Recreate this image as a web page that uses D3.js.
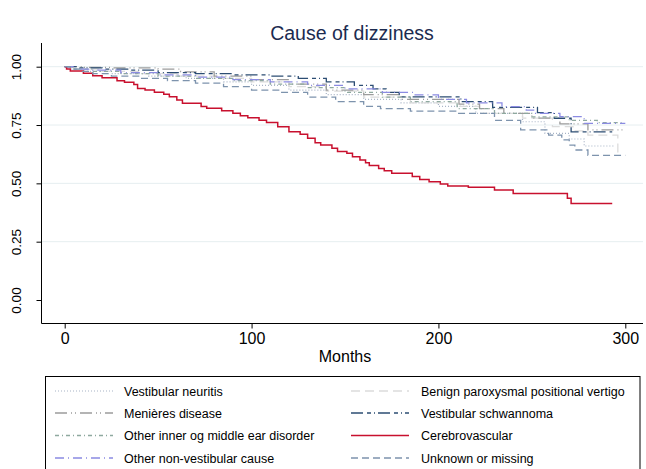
<!DOCTYPE html>
<html>
<head>
<meta charset="utf-8">
<script src="https://d3js.org/d3.v7.min.js"></script>
<style>
    body {margin: 0; background: #fff;}
    text {font-family: "Liberation Sans", Arial, sans-serif;}
</style>
</head>
<body>
<div id="chart"></div>
<script>
// Kaplan-Meier steps: month, survival (last entry = end of follow-up)
var neuritisT  = [0, 3, 10, 25, 45, 65, 85, 100, 120, 140, 160, 180, 200, 220, 245, 257, 270, 278, 294];
var neuritisS  = [1, 0.99, 0.98, 0.97, 0.96, 0.95, 0.935, 0.92, 0.90, 0.88, 0.86, 0.845, 0.83, 0.80, 0.764, 0.714, 0.69, 0.66, 0.66];

var benignT    = [0, 5, 20, 40, 60, 80, 100, 120, 140, 160, 185, 210, 222, 245, 261, 272, 280, 296, 297];
var benignS    = [1, 0.99, 0.98, 0.97, 0.96, 0.95, 0.935, 0.915, 0.895, 0.87, 0.845, 0.83, 0.80, 0.78, 0.743, 0.725, 0.707, 0.63, 0.63];

var menieresT  = [0, 10, 25, 50, 62, 80, 100, 120, 140, 160, 180, 211, 222, 235, 250, 265, 280, 300];
var menieresS  = [1, 0.997, 0.995, 0.99, 0.978, 0.96, 0.945, 0.925, 0.90, 0.88, 0.86, 0.84, 0.82, 0.80, 0.78, 0.755, 0.729, 0.729];

var schwannT   = [0, 8, 20, 35, 50, 70, 90, 110, 125, 140, 155, 165, 172, 179, 212, 229, 253, 262, 271, 293];
var schwannS   = [1, 0.995, 0.99, 0.985, 0.975, 0.97, 0.965, 0.96, 0.95, 0.935, 0.92, 0.905, 0.89, 0.871, 0.85, 0.826, 0.803, 0.779, 0.721, 0.721];

var innerEarT  = [0, 5, 15, 30, 50, 70, 90, 110, 130, 150, 170, 185, 210, 230, 250, 270, 285, 298];
var innerEarS  = [1, 0.99, 0.98, 0.97, 0.96, 0.95, 0.94, 0.925, 0.91, 0.89, 0.87, 0.85, 0.82, 0.80, 0.785, 0.77, 0.76, 0.76];

var cerebroT   = [0, 1, 3, 10, 15, 20, 28, 32, 37, 39, 43, 48, 53, 56, 60, 63, 73, 76, 84, 90, 94, 98, 104, 108, 114, 120, 126, 130, 134, 137, 143, 146, 151, 154, 158, 161, 163, 168, 171, 175, 186, 190, 195, 201, 205, 216, 230, 240, 269, 271, 293];
var cerebroS   = [1, 0.99, 0.982, 0.972, 0.961, 0.953, 0.94, 0.933, 0.924, 0.907, 0.90, 0.89, 0.882, 0.871, 0.857, 0.843, 0.829, 0.822, 0.811, 0.80, 0.79, 0.781, 0.771, 0.761, 0.743, 0.721, 0.71, 0.693, 0.674, 0.664, 0.65, 0.636, 0.629, 0.614, 0.60, 0.588, 0.576, 0.564, 0.554, 0.543, 0.529, 0.517, 0.507, 0.497, 0.489, 0.483, 0.471, 0.457, 0.436, 0.414, 0.414];

var nonVestT   = [0, 5, 15, 30, 50, 70, 90, 110, 130, 150, 170, 187, 200, 215, 234, 247, 252, 265, 278, 300];
var nonVestS   = [1, 0.99, 0.985, 0.975, 0.965, 0.955, 0.945, 0.935, 0.92, 0.905, 0.89, 0.879, 0.86, 0.845, 0.829, 0.814, 0.80, 0.786, 0.757, 0.757];

var unknownT   = [0, 3, 8, 15, 25, 40, 55, 70, 85, 100, 115, 130, 145, 160, 169, 185, 210, 230, 244, 259, 266, 270, 273, 280, 300];
var unknownS   = [1, 0.99, 0.98, 0.97, 0.96, 0.95, 0.94, 0.93, 0.915, 0.90, 0.89, 0.87, 0.85, 0.83, 0.82, 0.81, 0.80, 0.77, 0.729, 0.707, 0.686, 0.664, 0.643, 0.62, 0.62];

var xTicks = [0, 100, 200, 300];
var yTicks = [0, 0.25, 0.5, 0.75, 1];

var series = [
    {name: "Vestibular neuritis", t: neuritisT, s: neuritisS, color: "#a7b3c6", dash: "1,2", w: 1.2},
    {name: "Benign paroxysmal positional vertigo", t: benignT, s: benignS, color: "#dcdcdc", dash: "9,5", w: 1.3},
    {name: "Menières disease", t: menieresT, s: menieresS, color: "#9c9c9c", dash: "12,4,1,3,1,4", w: 1.3},
    {name: "Vestibular schwannoma", t: schwannT, s: schwannS, color: "#2c4d73", dash: "12,4,4,3,1,3", w: 1.3},
    {name: "Other inner og middle ear disorder", t: innerEarT, s: innerEarS, color: "#8ea99f", dash: "4,3,1,3", w: 1.3},
    {name: "Cerebrovascular", t: cerebroT, s: cerebroS, color: "#c8102e", dash: null, w: 1.5},
    {name: "Other non-vestibular cause", t: nonVestT, s: nonVestS, color: "#8b8be2", dash: "9,4,1,4", w: 1.3},
    {name: "Unknown or missing", t: unknownT, s: unknownS, color: "#7d93ad", dash: "7,4", w: 1.3}
];

var W = 646, H = 469;
var svg = d3.select("#chart").append("svg")
    .attr("width", W)
    .attr("height", H);

var x = d3.scaleLinear().domain([0, 300]).range([64.7, 625.3]);
var y = d3.scaleLinear().domain([0, 1]).range([300, 66.7]);

var plotLeft = 41.5, plotRight = 643, plotTop = 43, plotBottom = 323.5;

// gridlines
svg.append("g").selectAll("line")
    .data(yTicks.filter(function(d){ return d > 0; }))
    .join("line")
    .attr("x1", plotLeft).attr("x2", plotRight)
    .attr("y1", function(d){ return y(d); })
    .attr("y2", function(d){ return y(d); })
    .attr("stroke", "#e6eef0")
    .attr("stroke-width", 1);

// axes
var xAxis = svg.append("g")
    .attr("transform", "translate(0," + plotBottom + ")")
    .call(d3.axisBottom(x).tickValues(xTicks).tickSize(5).tickPadding(4).tickFormat(d3.format("d")));
xAxis.select(".domain").attr("d", "M" + plotLeft + ",0H" + plotRight);

var yAxis = svg.append("g")
    .attr("transform", "translate(" + plotLeft + ",0)")
    .call(d3.axisLeft(y).tickValues(yTicks).tickSize(5).tickFormat(d3.format(".2f")));
yAxis.select(".domain").attr("d", "M0," + plotTop + "V" + plotBottom);

svg.selectAll(".domain").attr("stroke", "#000");
svg.selectAll(".tick line").attr("stroke", "#000");
xAxis.selectAll(".tick text")
    .attr("font-size", 16)
    .attr("fill", "#000")
    .attr("font-family", "Liberation Sans, Arial, sans-serif");
yAxis.selectAll(".tick text")
    .attr("font-size", 13.5)
    .attr("fill", "#000")
    .attr("font-family", "Liberation Sans, Arial, sans-serif")
    .attr("text-anchor", "middle")
    .attr("dy", null)
    .attr("x", null)
    .attr("transform", "translate(-24,0) rotate(-90)")
    .attr("dominant-baseline", "middle");

// curves
var line = d3.line()
    .x(function(d){ return x(d[0]); })
    .y(function(d){ return y(d[1]); })
    .curve(d3.curveStepAfter);

series.forEach(function(sr){
    var pts = sr.t.map(function(t, i){ return [t, sr.s[i]]; });
    svg.append("path")
        .datum(pts)
        .attr("fill", "none")
        .attr("stroke", sr.color)
        .attr("stroke-width", sr.w)
        .attr("stroke-dasharray", sr.dash)
        .attr("d", line);
});

// title and axis title
svg.append("text")
    .attr("x", 352).attr("y", 40)
    .attr("text-anchor", "middle")
    .attr("font-size", 19.5)
    .attr("fill", "#1c2b50")
    .text("Cause of dizziness");

svg.append("text")
    .attr("x", 345).attr("y", 362)
    .attr("text-anchor", "middle")
    .attr("font-size", 16)
    .attr("fill", "#000")
    .text("Months");

// legend
var legend = svg.append("g");
legend.append("rect")
    .attr("x", 45.5).attr("y", 376.5)
    .attr("width", 594.5).attr("height", 110)
    .attr("fill", "#fff")
    .attr("stroke", "#000")
    .attr("stroke-width", 1);

var rowY = [391, 413, 435.5, 458];
series.forEach(function(sr, i){
    var col = i % 2, row = Math.floor(i / 2);
    var kx = col === 0 ? 55 : 351;
    var g = legend.append("g");
    g.append("line")
        .attr("x1", kx).attr("x2", kx + 58)
        .attr("y1", rowY[row]).attr("y2", rowY[row])
        .attr("stroke", sr.color)
        .attr("stroke-width", sr.w)
        .attr("stroke-dasharray", sr.dash);
    g.append("text")
        .attr("x", col === 0 ? 124 : 421)
        .attr("y", rowY[row] + 4.5)
        .attr("font-size", 12.5)
        .attr("fill", "#000")
        .text(sr.name);
});
</script>
</body>
</html>
